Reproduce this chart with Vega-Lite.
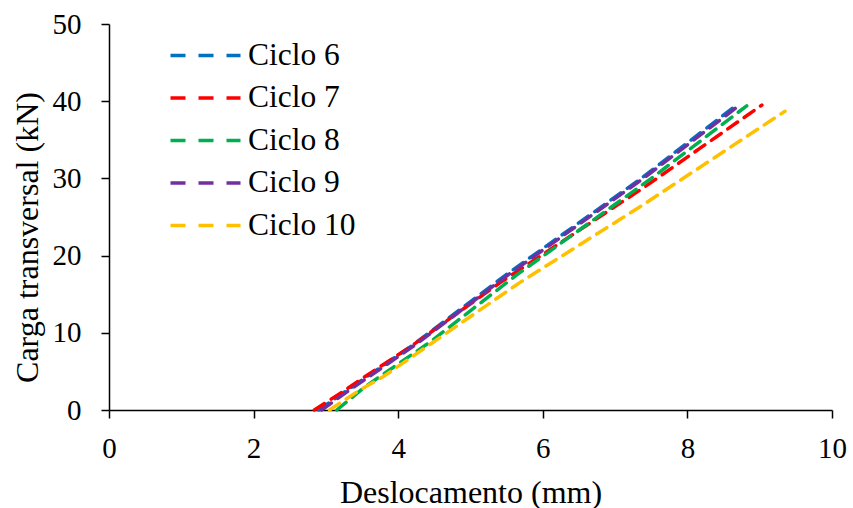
{
  "$schema": "https://vega.github.io/schema/vega-lite/v6.json",
  "width": 723,
  "height": 386,
  "autosize": "none",
  "padding": {"left": 109, "top": 24, "right": 21, "bottom": 98},
  "background": "white",
  "config": {
    "view": {"stroke": null},
    "font": "Liberation Serif",
    "axis": {
      "grid": false,
      "domainColor": "black",
      "domainWidth": 1.5,
      "tickColor": "black",
      "tickWidth": 1.5,
      "tickSize": 8,
      "labelFont": "Liberation Serif",
      "labelFontSize": 29,
      "labelColor": "black",
      "labelFlush": false,
      "titleFont": "Liberation Serif",
      "titleFontSize": 32,
      "titleFontWeight": "normal",
      "titleColor": "black"
    }
  },
  "data": {
    "values": [
      {"s": "Ciclo 6", "x": 2.9, "y": 0},
      {"s": "Ciclo 6", "x": 3.3, "y": 2.6},
      {"s": "Ciclo 6", "x": 4.2, "y": 8.4},
      {"s": "Ciclo 6", "x": 5.49, "y": 17.5},
      {"s": "Ciclo 6", "x": 7.36, "y": 30.0},
      {"s": "Ciclo 6", "x": 8.68, "y": 39.5},
      {"s": "Ciclo 7", "x": 2.84, "y": 0},
      {"s": "Ciclo 7", "x": 3.22, "y": 2.3},
      {"s": "Ciclo 7", "x": 3.57, "y": 4.5},
      {"s": "Ciclo 7", "x": 4.2, "y": 8.4},
      {"s": "Ciclo 7", "x": 5.41, "y": 16.5},
      {"s": "Ciclo 7", "x": 7.41, "y": 28.9},
      {"s": "Ciclo 7", "x": 9.03, "y": 39.5},
      {"s": "Ciclo 8", "x": 3.15, "y": 0},
      {"s": "Ciclo 8", "x": 3.54, "y": 3.0},
      {"s": "Ciclo 8", "x": 4.44, "y": 8.8},
      {"s": "Ciclo 8", "x": 5.64, "y": 17.5},
      {"s": "Ciclo 8", "x": 7.5, "y": 30.0},
      {"s": "Ciclo 8", "x": 8.82, "y": 39.4},
      {"s": "Ciclo 9", "x": 2.94, "y": 0},
      {"s": "Ciclo 9", "x": 3.33, "y": 2.6},
      {"s": "Ciclo 9", "x": 4.23, "y": 8.4},
      {"s": "Ciclo 9", "x": 5.52, "y": 17.5},
      {"s": "Ciclo 9", "x": 7.39, "y": 30.0},
      {"s": "Ciclo 9", "x": 8.71, "y": 39.4},
      {"s": "Ciclo 10", "x": 3.05, "y": 0},
      {"s": "Ciclo 10", "x": 3.47, "y": 2.6},
      {"s": "Ciclo 10", "x": 3.79, "y": 4.3},
      {"s": "Ciclo 10", "x": 5.68, "y": 16.5},
      {"s": "Ciclo 10", "x": 7.34, "y": 26.3},
      {"s": "Ciclo 10", "x": 9.35, "y": 38.7}
    ]
  },
  "mark": {"type": "line", "strokeDash": [12, 8], "strokeWidth": 3.5, "strokeCap": "round"},
  "encoding": {
    "x": {
      "field": "x",
      "type": "quantitative",
      "scale": {"domain": [0, 10], "nice": false},
      "axis": {
        "title": "Deslocamento (mm)",
        "values": [0, 2, 4, 6, 8, 10],
        "labelPadding": 16,
        "titleX": 361.5,
        "titleY": 92,
        "titleBaseline": "alphabetic"
      }
    },
    "y": {
      "field": "y",
      "type": "quantitative",
      "scale": {"domain": [0, 50], "nice": false},
      "axis": {
        "title": "Carga transversal (kN)",
        "values": [0, 10, 20, 30, 40, 50],
        "labelPadding": 20,
        "titleX": -82,
        "titleY": 213,
        "titleAngle": 270,
        "titleAlign": "center",
        "titleBaseline": "middle"
      }
    },
    "color": {
      "field": "s",
      "type": "nominal",
      "scale": {
        "domain": ["Ciclo 6", "Ciclo 7", "Ciclo 8", "Ciclo 9", "Ciclo 10"],
        "range": ["#0070C0", "#FF0000", "#00B050", "#7030A0", "#FFC000"]
      },
      "legend": {
        "title": null,
        "orient": "none",
        "legendX": 77,
        "legendY": 12,
        "symbolType": "M-2,0H2",
        "symbolSize": 1225,
        "symbolStrokeWidth": 3.5,
        "symbolDash": [15, 13],
        "labelFont": "Liberation Serif",
        "labelFontSize": 31.5,
        "labelColor": "black",
        "labelOffset": 23,
        "rowPadding": 7.5,
        "labelLimit": 300
      }
    }
  }
}
